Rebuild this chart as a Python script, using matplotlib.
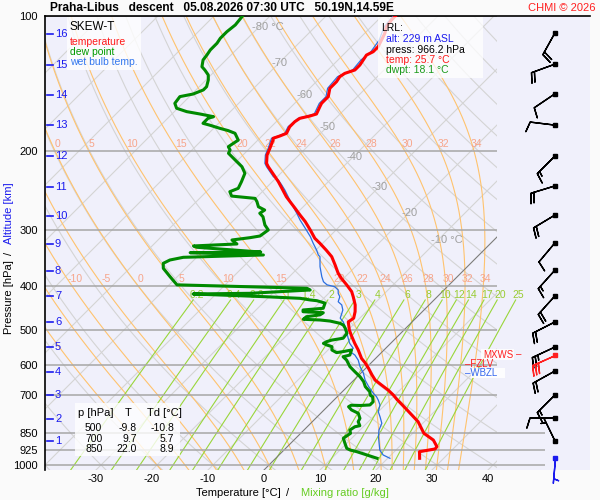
import numpy as np
import matplotlib
matplotlib.use('Agg')
import matplotlib.pyplot as plt
from matplotlib.patches import Rectangle

plt.rcParams['font.family'] = ['Liberation Sans', 'DejaVu Sans']

# ---------------- data ----------------
temp_p = [966.2, 934, 921, 910, 880, 850, 801, 751.5, 714, 698.4, 681, 663.5, 647, 630, 609, 592, 579,
          554.5, 536, 516, 500, 480, 471, 455.6, 440, 422, 411, 397, 384, 374, 358.6, 343.6, 332, 320.8,
          312.7, 299.6, 287, 277.5, 268, 259, 252.7, 242, 234, 228, 216.6, 212.9, 204, 197, 189, 187.2,
          185, 182.5, 176.5, 172, 169, 167, 165.3, 159.2, 156.5, 151.2, 144.9, 140, 136.5, 134.2, 131.9,
          128.6, 125.3, 122.2, 120.1, 117.1, 113.1, 109.3, 105.7, 102.1, 100]
temp_t = [25.7, 24.5, 26.8, 26.7, 24.9, 22.0, 18.9, 14.6, 11.1, 9.7, 7.9, 5.8, 3.8, 2.3, 0.5, -1.1, -2.5,
          -4.6, -6.4, -8.3, -9.8, -11.4, -11.1, -12.0, -13.2, -15.0, -16.2, -18.3, -20.4, -21.9, -23.9, -26.0,
          -28.2, -30.5, -32.3, -34.6, -37.0, -39.1, -41.2, -43.3, -44.8, -47.1, -48.9, -50.4, -53.4, -54.3,
          -55.7, -56.4, -57.3, -57.6, -56.8, -56.1, -56.7, -56.7, -56.4, -55.0, -54.2, -54.9, -55.2, -55.2,
          -56.4, -56.4, -56.7, -56.4, -55.2, -55.2, -55.5, -55.8, -55.2, -55.2, -55.8, -56.4, -57.3, -57.6, -57.6]

dwpt_p = [966.2, 950, 934, 926, 918, 895, 872, 850, 836, 822, 817.5, 801, 787, 767, 754, 741.6, 736, 737, 735,
          723, 704.5, 700, 686.7, 669, 652, 636, 620, 604, 583.7, 574, 569, 554.5, 559, 562, 554.5, 545, 540.5,
          536, 531, 527, 522, 509, 496, 488, 483.6, 478, 475.4, 473.7, 467.5, 463, 458, 455.6, 451.6, 447.7,
          436, 430.6, 429, 425.4, 422, 416, 414.6, 407.6, 404, 397, 380.7, 364.7, 355.5, 349.5, 344.7, 340.6,
          336.6, 335.5, 332, 327.4, 325.2, 321.9, 315.4, 311.7, 309, 299.6, 292, 280, 275, 270.5, 266, 259,
          254.8, 251.8, 246.2, 242, 234, 224, 216.6, 209.3, 202.2, 198.8, 195.5, 192, 189, 182.5, 180, 177.9,
          175, 173.4, 169, 167.6, 165.3, 163.3, 160.5, 156.5, 151.2, 149.2, 146.1, 143.7, 138.8, 135.3, 131.9,
          129.7, 125.3, 122.2, 119, 115, 112.1, 108.4, 104.7, 100]
dwpt_t = [18.1, 15.7, 13.3, 11.8, 10.9, 9.7, 8.5, 8.9, 8.2, 8.5, 9.2, 8.2, 7.9, 6.7, 4.9, 3.8, 4.0, 5.7, 7.3,
          7.3, 6.3, 5.7, 4.9, 3.2, 2.0, 0.5, -1.3, -3.1, -4.9, -6.1, -5.2, -5.8, -7.0, -8.0, -9.3, -9.9, -11.1,
          -12.0, -11.7, -11.1, -9.4, -9.6, -10.8, -11.7, -12.6, -14.8, -16.8, -19.9, -19.8, -17.7, -17.5, -21.3,
          -21.6, -18.3, -18.9, -20.8, -22.1, -24.2, -30.5, -44.1, -34.1, -23.9, -24.8, -48.6, -51.3, -54.0,
          -54.9, -54.3, -52.4, -38.5, -52.0, -39.5, -44.8, -51.8, -52.6, -45.2, -46.8, -44.0, -42.5, -42.1,
          -43.6, -45.4, -46.6, -46.3, -48.0, -49.2, -50.1, -54.7, -55.8, -54.9, -55.5, -56.4, -58.1, -60.5,
          -62.9, -63.2, -64.1, -63.8, -63.5, -65.3, -67.0, -68.9, -71.3, -72.8, -72.8, -72.1, -75.0, -77.8,
          -80.2, -81.4, -81.7, -79.8, -78.7, -78.7, -79.6, -80.5, -82.0, -83.1, -84.1, -84.3, -84.6, -84.6,
          -84.9, -84.9, -84.6, -84.9]

wetb_p = [966.2, 950, 926, 895, 865, 836, 807.5, 780.6, 761, 735, 716.6, 704.5, 692, 669, 647, 625, 604, 584,
          569, 559, 549.6, 536, 522, 509, 492, 480, 471, 459, 451.6, 440, 432.9, 422, 414.6, 407.6, 400.8, 397,
          390.7, 380.7, 361.7, 343.6, 340.6, 332, 320.8, 310, 297, 284.7, 275, 266, 257, 244, 238, 232, 228,
          216.6, 212.9, 204, 197, 187.2, 185, 182.5, 176.5, 169, 165.3, 156.5, 151.2, 144.9, 136.5, 131.9,
          125.3, 120.1, 113.1, 105.7, 100]
wetb_t = [20.4, 18.6, 17.1, 15.8, 14.5, 13.4, 12.7, 11.2, 10.0, 9.1, 7.9, 7.0, 5.8, 3.8, 2.0, 0.5, -1.3, -2.8,
          -4.3, -5.8, -5.8, -7.3, -8.5, -9.6, -11.1, -12.3, -13.5, -14.1, -14.5, -15.6, -16.8, -17.4, -18.3,
          -18.9, -20.1, -21.8, -23.0, -24.2, -26.3, -28.1, -28.7, -29.9, -31.7, -33.4, -35.8, -38.2, -40.0,
          -41.8, -43.6, -46.3, -47.7, -49.2, -50.7, -53.7, -54.6, -56.0, -56.7, -57.9, -57.1, -56.4, -57.0,
          -56.7, -54.6, -55.6, -55.6, -56.8, -57.1, -55.6, -55.9, -55.6, -56.2, -57.7, -58.0]

# altitude scale (km) and the wind levels (pressure of each km level, surface first)
km_labels = list(range(1, 17))
km_p = [884, 790, 698, 620.6, 546, 480, 420, 369.8, 322, 278.9, 240.4, 205, 175, 149.9, 128.6, 109.7]

wind_p = [965, 884, 786, 698, 617.5, 569, 546, 480, 420, 368, 320, 277.5, 239, 205, 175, 149, 128, 109]
wind_dir = [185, 334, 270, 225, 241, 246, 245, 243, 222, 222, 220, 239, 253, 225, 277, 236, 250, 209]
wind_spd = [5, 5, 10, 15, 20, 30, 25, 20, 20, 15, 10, 20, 20, 15, 10, 10, 20, 20]
wind_kind = ['sfc', 'n', 'n', 'n', 'n', 'mx', 'n', 'n', 'n', 'n', 'n', 'n', 'n', 'n', 'n', 'n', 'n', 'n']

pressure_ticks = [100, 200, 300, 400, 500, 600, 700, 850, 925, 1000]
temp_ticks = [-30, -20, -10, 0, 10, 20, 30, 40]
mix_ratios = [0.2, 0.4, 0.6, 1, 1.4, 2, 3, 4, 6, 8, 10, 12, 14, 17, 20, 25]
mix_labels = ['0.2', '0.4', '0.6', '1', '1.4', '2', '3', '4', '6', '8', '10', '12', '14', '17', '20', '25']
thw_values = [-20, -15, -10, -5, 0, 5, 10, 15, 20, 22, 24, 26, 28, 30, 32, 34]
thw_lab_200 = [0, 5, 10, 15, 20, 22, 24, 26, 28, 30, 32, 34]
thw_lab_400 = [-10, -5, 0, 5, 10, 15, 20, 22, 24, 26, 28, 30, 32, 34]
iso_lab_T = [-80, -70, -60, -50, -40, -30, -20, -10]
iso_lab_p = [105.8, 127.3, 149.9, 176.7, 206, 240.4, 274.7, 315.4]

table_p = [500, 700, 850]
table_T = [-9.8, 9.7, 22.0]
table_Td = [-10.8, 5.7, 8.9]

lrl_alt = 229
lrl_press = 966.2
lrl_temp = 25.7
lrl_dwpt = 18.1
level_names = ['MXWS', 'FZLV', 'WBZL']
level_p = [569, 595.8, 624]

# ---------------- geometry ----------------
W, H = 600, 500
K = 195.0 / 5.6
P0 = 1026.0
XMIN, XMAX = (45 - 264) / 5.6, (590 - 264) / 5.6
XCLIP = (497 - 264) / 5.6
XLONG = (545 - 264) / 5.6
XBARB = (555 - 264) / 5.6


def skx(T, p):
    return np.asarray(T, float) + K * np.log(P0 / np.asarray(p, float))


def fx(px):
    return px / W


def fy(py):
    return 1 - py / H


fig = plt.figure(figsize=(6, 5), dpi=100, facecolor='#fafafa')
ax = fig.add_axes([fx(45), fy(470), 545 / W, 454 / H])
ax.set_facecolor('#f0f0fb')
ax.set_yscale('log')
ax.set_ylim(P0, 100)
ax.set_xlim(XMIN, XMAX)
ax.minorticks_off()
for s in ['right', 'bottom']:
    ax.spines[s].set_visible(False)
ax.spines['left'].set_linewidth(1.2)
ax.spines['top'].set_linewidth(1.2)

clip = Rectangle((XMIN, 100), XCLIP - XMIN, P0 - 100, transform=ax.transData, visible=False)
ax.add_patch(clip)

pp = np.geomspace(P0, 100, 300)

# isotherms
for T in range(-130, 61, 10):
    ln, = ax.plot(skx(np.full_like(pp, T), pp), pp, color='#d4d4d4', lw=0.8, zorder=1)
    ln.set_clip_path(clip)
ln, = ax.plot(skx(np.zeros_like(pp), pp), pp, color='#777777', lw=0.7, zorder=1.5)
ln.set_clip_path(clip)

# dry adiabats
for th in range(-50, 200, 10):
    T = (th + 273.15) * (pp / 1000.0) ** 0.2857 - 273.15
    ln, = ax.plot(skx(T, pp), pp, color='#d4d4d4', lw=0.8, zorder=1)
    ln.set_clip_path(clip)

# moist (pseudo) adiabats
Rd, Cp, Lv, eps = 287.04, 1005.7, 2.501e6, 0.622


def dTdp(T, p):
    Tc = T - 273.15
    es = 6.112 * np.exp(17.67 * Tc / (Tc + 243.5))
    rs = eps * es / (p - es)
    return (Rd * T + Lv * rs) / p / (Cp + Lv * Lv * rs * eps / (Rd * T * T))


def integrate(T0, p_levels):
    T = np.array(T0, float)
    out = [T.copy()]
    for i in range(1, len(p_levels)):
        p1, p2 = p_levels[i - 1], p_levels[i]
        h = p2 - p1
        k1 = dTdp(T, p1)
        k2 = dTdp(T + 0.5 * h * k1, p1 + 0.5 * h)
        k3 = dTdp(T + 0.5 * h * k2, p1 + 0.5 * h)
        k4 = dTdp(T + h * k3, p2)
        T = T + h / 6 * (k1 + 2 * k2 + 2 * k3 + k4)
        out.append(T.copy())
    return np.array(out)


T0 = np.array(thw_values, float) + 273.15
p_up = np.linspace(1000, 100, 901)
p_dn = np.linspace(1000, P0, 27)
Tup = integrate(T0, p_up) - 273.15
Tdn = integrate(T0, p_dn) - 273.15
p_all = np.concatenate([p_dn[::-1], p_up[1:]])
for j, thw in enumerate(thw_values):
    Tall = np.concatenate([Tdn[::-1, j], Tup[1:, j]])
    ln, = ax.plot(skx(Tall, p_all), p_all, color='#ffc36e', lw=0.8, zorder=1.2)
    ln.set_clip_path(clip)
    for plev, labs in [(200, thw_lab_200), (400, thw_lab_400)]:
        if thw in labs:
            plab = plev * np.exp(-7 / 195.0)
            tl = np.interp(plev, p_up[::-1], Tup[::-1, j])
            xl = skx(tl, plev) + 2.5 / 5.6
            if XMIN + 1 < xl < XCLIP - 1:
                ax.text(xl, plab, str(thw), color='#f7a58a', fontsize=7.5, ha='center', va='center', zorder=2)

# mixing ratio lines
pm = np.geomspace(P0, 429, 100)
for w, lab in zip(mix_ratios, mix_labels):
    e = w * pm / (622.0 + w)
    a = np.log(e / 6.112)
    Td = 243.5 * a / (17.67 - a)
    ax.plot(skx(Td, pm), pm, color='#99d63a', lw=0.8, zorder=1.3)
    pl = 418.0
    e = w * pl / (622.0 + w)
    a = np.log(e / 6.112)
    Td = 243.5 * a / (17.67 - a)
    ax.text(skx(Td, pl), pl, lab, color='#99cc33', fontsize=7.5, ha='center', va='center', zorder=2)

# isotherm labels
for T, p in zip(iso_lab_T, iso_lab_p):
    s = '%d °C' % T if T in (-80, -10) else '%d' % T
    ax.text(skx(T, p), p, s, color='#a0a0a0', fontsize=8, ha='left', va='center', zorder=2,
            transform=ax.transData + matplotlib.transforms.ScaledTranslation(-7 / 100, 0, fig.dpi_scale_trans))

# pressure lines
for p in pressure_ticks:
    xe = XLONG if p >= 850 else XCLIP
    ax.plot([XMIN, xe], [p, p], color='#a6a6a6', lw=1.1, zorder=1.6, solid_capstyle='butt')

# profiles
ax.plot(skx(wetb_t, wetb_p), wetb_p, color='#2a6ee0', lw=0.9, zorder=3)
ax.plot(skx(dwpt_t, dwpt_p), dwpt_p, color='#008a00', lw=2.2, zorder=3.1)
ax.plot(skx(temp_t, temp_p), temp_p, color='#ff0000', lw=2.2, zorder=3.2)

# altitude ticks
for km, p in zip(km_labels, km_p):
    ax.plot([XMIN + 2 / 5.6, XMIN + 8 / 5.6], [p, p], color='#1a1aee', lw=1.2, zorder=4)
    ax.text(XMIN + 10 / 5.6, p, str(km), color='#1a1aee', fontsize=8, ha='left', va='center', zorder=4)

# wind barbs
wd = np.radians(np.array(wind_dir, float))
ws = np.array(wind_spd, float)
u = -ws * np.sin(wd)
v = -ws * np.cos(wd)
wp = np.array(wind_p, float)
for kind, col in [('n', 'black'), ('mx', '#ff2020'), ('sfc', '#1a1aee')]:
    m = np.array([k == kind for k in wind_kind])
    b = ax.barbs(np.full(m.sum(), XBARB), wp[m], u[m], v[m], length=6, linewidth=1.0,
                 barbcolor=col, flagcolor=col, pivot='tip', flip_barb=True, zorder=5)
    b.set_clip_on(False)
    b.set_clip_path(None)
    ax.plot(np.full(m.sum(), XBARB), wp[m], 's', ms=2.6, color=col, zorder=6, clip_on=False)

ax.set_yticks(pressure_ticks)
ax.set_yticklabels([str(p) for p in pressure_ticks])
ax.set_xticks(temp_ticks)
ax.set_xticklabels([str(t) for t in temp_ticks])
ax.tick_params(axis='both', length=0, labelsize=8)
ax.tick_params(axis='y', pad=5)
ax.tick_params(axis='x', pad=3)

# --- boxes and texts (figure pixel coordinates) ---
def box(x0, y0, x1, y1, alpha=0.8):
    fig.add_artist(Rectangle((fx(x0), fy(y1)), (x1 - x0) / W, (y1 - y0) / H, transform=fig.transFigure,
                             facecolor='white', edgecolor='none', alpha=alpha, zorder=8))


def txt(x, y, s, **kw):
    kw.setdefault('fontsize', 7.5)
    kw.setdefault('va', 'center')
    kw.setdefault('ha', 'left')
    fig.text(fx(x), fy(y), s, zorder=9, **kw)


box(67, 17, 141, 70)
txt(70, 27, 'SKEW-T', fontsize=8.5)
txt(70, 42, 'temperature', color='#ff1a1a')
txt(70, 52, 'dew point', color='#009a00')
txt(70, 62, 'wet bulb temp.', color='#3377ee')

box(378, 17, 483, 78, alpha=0.75)
txt(381, 28, 'LRL:', color='black')
txt(386, 39.5, 'alt: %d m ASL' % lrl_alt, color='#1a1aee')
txt(386, 50, 'press: %.1f hPa' % lrl_press, color='black')
txt(386, 60, 'temp: %.1f °C' % lrl_temp, color='#ff1a1a')
txt(386, 70, 'dwpt: %.1f °C' % lrl_dwpt, color='#1a9a1a')

box(75, 403, 180, 456, alpha=0.8)
txt(78, 413, 'p [hPa]', fontsize=8)
txt(128, 413, 'T', fontsize=8, ha='center')
txt(147, 413, 'Td [°C]', fontsize=8)
for i, (p, t, td) in enumerate(zip(table_p, table_T, table_Td)):
    yy = 428 + 10.5 * i
    txt(85, yy, '%d' % p)
    txt(137, yy, '%.1f' % t, ha='right')
    txt(174, yy, '%.1f' % td, ha='right')

# special levels
y_mx = 470 - 195 * np.log(P0 / level_p[0])
y_fz = 470 - 195 * np.log(P0 / level_p[1])
y_wb = 470 - 195 * np.log(P0 / level_p[2])
box(481, y_mx - 6, 514, y_mx + 5, alpha=0.85)
txt(483, y_mx, level_names[0], color='#ff2020', fontsize=7)
txt(516, y_mx - 0.5, '–', color='#ff2020', fontsize=7)
txt(465, y_fz, '–' + level_names[1], color='#ff2020', fontsize=7)
box(471, y_wb - 5, 505, y_wb + 5, alpha=0.9)
txt(465, y_wb, '–' + level_names[2], color='#3366ee', fontsize=7)

# titles and axis labels
txt(50, 8, 'Praha-Libus   descent   05.08.2026 07:30 UTC   50.19N,14.59E', fontsize=8.6, fontweight='bold')
txt(596, 8, 'CHMI © 2026', color='#ff2020', fontsize=8, ha='right')
txt(238.5, 493, 'Temperature [°C]', fontsize=8, ha='center')
txt(288, 493, '/', fontsize=8, ha='center')
txt(344.5, 493, 'Mixing ratio [g/kg]', fontsize=8, ha='center', color='#66cc22')
txt(9, 297.5, 'Pressure [hPa]', fontsize=8, ha='center', rotation=90)
txt(9, 253, '/', fontsize=8, ha='center', rotation=90)
txt(9, 213, 'Altitude [km]', fontsize=8, ha='center', rotation=90, color='#1a1aee')

fig.savefig('out.png', dpi=100, facecolor=fig.get_facecolor())
